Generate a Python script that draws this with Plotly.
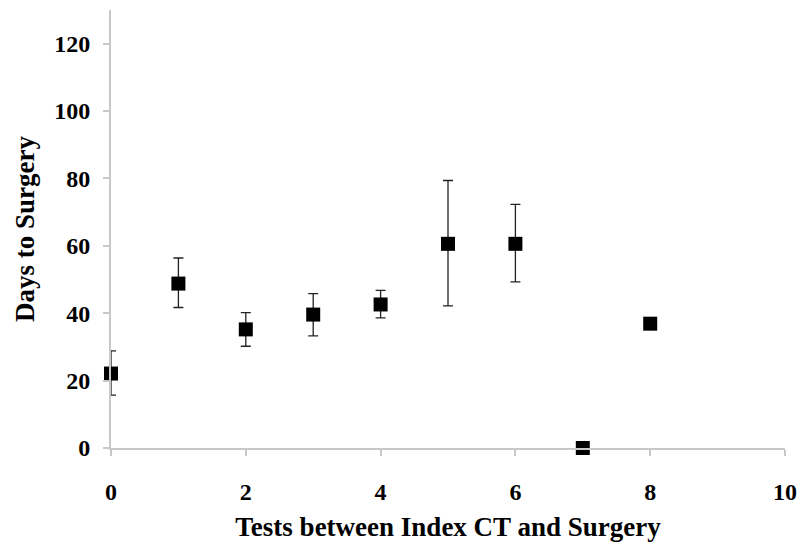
import plotly.graph_objects as go

tests = [0, 1, 2, 3, 4, 5, 6, 7, 8]
days = [22.1, 48.8, 35.2, 39.6, 42.6, 60.6, 60.6, 0, 36.9]
err_plus = [6.7, 7.6, 5.0, 6.2, 4.2, 18.8, 11.7, 0, 0]
err_minus = [6.4, 7.1, 5.0, 6.3, 4.0, 18.4, 11.3, 0, 0]

x_ticks = [0, 2, 4, 6, 8, 10]
y_ticks = [0, 20, 40, 60, 80, 100, 120]

font_family = "Liberation Serif"

fig = go.Figure()
fig.add_trace(go.Scatter(
    x=tests, y=days, mode="markers",
    marker=dict(symbol="square", size=14, color="black"),
    error_y=dict(type="data", symmetric=False, array=err_plus, arrayminus=err_minus,
                 color="#222222", thickness=1.3, width=5),
    cliponaxis=False,
    showlegend=False,
))

fig.update_layout(
    width=801, height=546,
    margin=dict(l=111, r=16, t=10, b=98),
    paper_bgcolor="white", plot_bgcolor="white",
    font=dict(family=font_family, color="black"),
    xaxis=dict(
        range=[0, 10], tickvals=x_ticks, ticktext=[str(v) for v in x_ticks],
        showgrid=False, zeroline=False, showline=True, linecolor="#c8c8c8", linewidth=2,
        ticks="outside", ticklen=6, tickwidth=1.5, tickcolor="#c8c8c8",
        tickfont=dict(size=24, family=font_family, weight="bold"),
        ticklabelstandoff=15, automargin=False,
        title=dict(text="<b>Tests between Index CT and Surgery</b>", font=dict(size=27, family=font_family), standoff=13),
    ),
    yaxis=dict(
        range=[0, 130], tickvals=y_ticks, ticktext=[str(v) for v in y_ticks],
        showgrid=False, zeroline=False, showline=True, linecolor="#c8c8c8", linewidth=2,
        ticks="outside", ticklen=6, tickwidth=1.5, tickcolor="#c8c8c8",
        tickfont=dict(size=24, family=font_family, weight="bold"),
        ticklabelstandoff=8, automargin=False,
        title=dict(text="<b>Days to Surgery</b>", font=dict(size=27, family=font_family), standoff=12),
    ),
)

fig.write_html("out.html", config={"displayModeBar": False},
               post_script="document.body.style.margin='0';document.body.style.padding='0';")
